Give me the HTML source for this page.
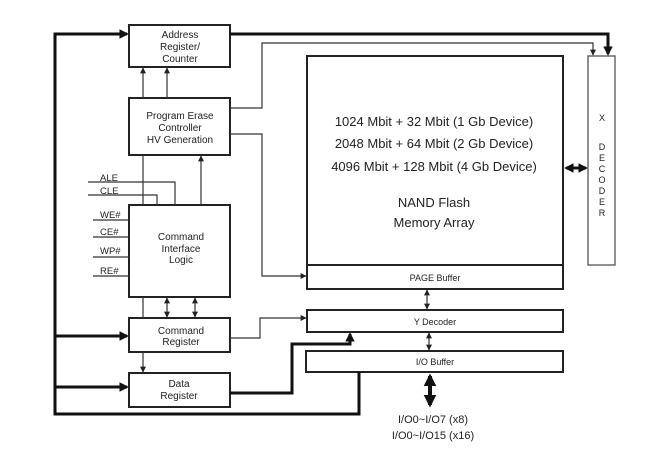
<!DOCTYPE html>
<html><head><style>
body{margin:0;background:#fff}
svg{display:block}
text{font-family:"Liberation Sans",Arial,sans-serif;fill:#222}
</style></head><body>
<svg width="653" height="458" viewBox="0 0 653 458" xmlns="http://www.w3.org/2000/svg">
<defs>
<marker id="a" viewBox="0 0 10 10" refX="9" refY="5" markerWidth="5" markerHeight="5" orient="auto-start-reverse"><path d="M0,0L10,5L0,10z" fill="#222"/></marker>
<marker id="b" viewBox="0 0 10 10" refX="8" refY="5" markerWidth="3.2" markerHeight="3.2" orient="auto-start-reverse"><path d="M0,0L10,5L0,10z" fill="#111"/></marker>
</defs>
<g fill="none" stroke="#222" stroke-width="2">
<rect x="129" y="25" width="101" height="42"/>
<rect x="129" y="98" width="101" height="57"/>
<rect x="129" y="205" width="101" height="92"/>
<rect x="129" y="318" width="101" height="34"/>
<rect x="129" y="373" width="101" height="34"/>
<rect x="307" y="56" width="256" height="233"/>
<line x1="307" y1="265" x2="563" y2="265"/>
<rect x="307" y="310" width="256" height="22"/>
<rect x="306" y="351" width="257" height="21"/>
</g>
<rect x="588" y="56" width="27" height="209" fill="none" stroke="#555" stroke-width="1.3"/>
<g fill="none" stroke="#333" stroke-width="1.2">
<line x1="143" y1="98" x2="143" y2="68" marker-end="url(#a)"/>
<line x1="167" y1="98" x2="167" y2="68" marker-end="url(#a)"/>
<line x1="143" y1="155" x2="143" y2="205"/>
<line x1="201" y1="205" x2="201" y2="156" marker-end="url(#a)"/>
<polyline points="88,182 175,182 175,205"/>
<polyline points="88,195 157,195 157,205"/>
<line x1="93" y1="220" x2="129" y2="220"/>
<line x1="93" y1="237" x2="129" y2="237"/>
<line x1="93" y1="257" x2="129" y2="257"/>
<line x1="93" y1="276" x2="129" y2="276"/>
<line x1="143" y1="297" x2="143" y2="318"/>
<line x1="167" y1="298" x2="167" y2="317" marker-start="url(#a)" marker-end="url(#a)"/>
<line x1="195" y1="298" x2="195" y2="317" marker-start="url(#a)" marker-end="url(#a)"/>
<line x1="143" y1="352" x2="143" y2="372" marker-end="url(#a)"/>
<polyline points="230,108 262,108 262,43 593,43 593,55" marker-end="url(#a)"/>
<polyline points="230,134 262,134 262,276 306,276" marker-end="url(#a)"/>
<polyline points="230,338 260,338 260,318 306,318" marker-end="url(#a)"/>
<line x1="427" y1="290" x2="427" y2="309" marker-start="url(#a)" marker-end="url(#a)"/>
<line x1="429" y1="333" x2="429" y2="350" marker-start="url(#a)" marker-end="url(#a)"/>
</g>
<g fill="none" stroke="#111" stroke-width="3">
<polyline points="230,34 608,34 608,54" marker-end="url(#b)"/>
<polyline points="359,372 359,414 55,414 55,34 127,34" marker-end="url(#b)"/>
<line x1="55" y1="336" x2="127" y2="336" marker-end="url(#b)"/>
<line x1="55" y1="387" x2="127" y2="387" marker-end="url(#b)"/>
<polyline points="230,393 292,393 292,344 350,344 350,334" marker-end="url(#b)"/>
<line x1="430" y1="376" x2="430" y2="405" stroke-width="4" marker-start="url(#b)" marker-end="url(#b)"/>
<line x1="566" y1="168" x2="586" y2="168" stroke-width="3" marker-start="url(#b)" marker-end="url(#b)"/>
</g>
<g font-size="10" text-anchor="middle">
<text x="180" y="38">Address</text><text x="180" y="50">Register/</text><text x="180" y="62">Counter</text>
<text x="180" y="119">Program Erase</text><text x="180" y="131">Controller</text><text x="180" y="143">HV Generation</text>
<text x="181" y="240">Command</text><text x="181" y="252">Interface</text><text x="181" y="263">Logic</text>
<text x="181" y="334">Command</text><text x="181" y="345">Register</text>
<text x="179" y="387">Data</text><text x="179" y="399">Register</text>
</g>
<g font-size="9.5">
<text x="100" y="181">ALE</text><text x="100" y="194">CLE</text>
<text x="100" y="218">WE#</text><text x="100" y="235">CE#</text>
<text x="100" y="254">WP#</text><text x="100" y="274">RE#</text>
</g>
<g font-size="13" text-anchor="middle">
<text x="434" y="126">1024 Mbit + 32 Mbit (1 Gb Device)</text>
<text x="434" y="148">2048 Mbit + 64 Mbit (2 Gb Device)</text>
<text x="434" y="171">4096 Mbit + 128 Mbit (4 Gb Device)</text>
<text x="434" y="207">NAND Flash</text>
<text x="434" y="227">Memory Array</text>
</g>
<g font-size="9" text-anchor="middle">
<text x="435" y="281">PAGE Buffer</text>
<text x="435" y="325">Y Decoder</text>
<text x="435" y="365">I/O Buffer</text>
</g>
<g font-size="9" text-anchor="middle">
<text x="602" y="121">X</text>
<text x="602" y="150">D</text><text x="602" y="161">E</text><text x="602" y="172">C</text>
<text x="602" y="183">O</text><text x="602" y="194">D</text><text x="602" y="205">E</text><text x="602" y="216">R</text>
</g>
<g font-size="11" text-anchor="middle">
<text x="433" y="423">I/O0~I/O7 (x8)</text>
<text x="433" y="439">I/O0~I/O15 (x16)</text>
</g>
</svg>
</body></html>
